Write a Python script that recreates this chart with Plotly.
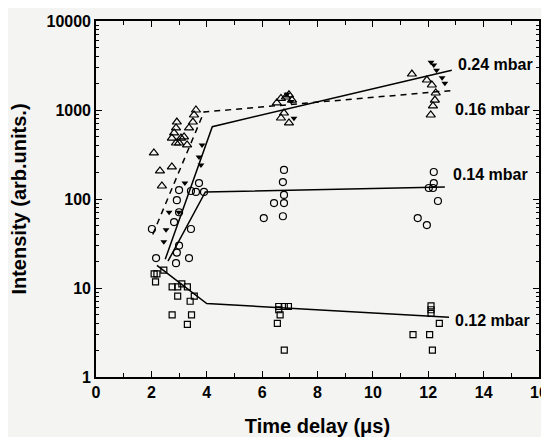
import plotly.graph_objects as go

# ---- data ----
# 0.12 mbar (open squares)
sq_x = [2.1, 2.2, 2.15, 2.45, 2.75, 2.95, 3.1, 3.3, 2.95, 3.4, 3.55, 2.75, 3.45, 3.3,
        6.6, 6.8, 6.95, 6.6, 6.65, 6.55, 6.8, 12.1, 12.1, 12.1, 12.4, 11.45, 12.05, 12.15]
sq_y = [14.4, 14.4, 11.7, 15.9, 10.3, 10.3, 11.1, 10.3, 8.1, 7.1, 8.1, 5.0, 5.0, 3.9,
        6.2, 6.2, 6.2, 5.7, 5.0, 4.0, 2.0, 6.3, 5.7, 5.2, 4.0, 3.0, 3.0, 2.0]

# 0.14 mbar (open circles)
ci_x = [2.02, 2.17, 2.82, 2.92, 2.92, 3.0, 3.0, 3.0, 2.89, 3.36, 3.43, 3.43, 3.61, 3.72, 3.9,
        6.06, 6.43, 6.79, 6.75, 6.79, 6.79, 6.75, 12.2, 12.2, 12.02, 12.17, 12.35, 11.62, 11.95]
ci_y = [46, 21.7, 55, 97, 25, 126, 71, 30, 19, 21.7, 123, 46, 120, 151, 120,
        61, 90, 212, 155, 111, 90, 64, 201, 151, 133, 133, 95, 61, 51]

# 0.16 mbar (open triangles)
tr_x = [2.09, 2.31, 2.38, 2.74, 2.74, 2.82, 2.89, 2.89, 2.92, 3.07, 3.18, 3.29, 3.36, 3.5, 3.54, 3.61, 3.0,
        6.53, 6.68, 6.86, 6.97, 6.68, 6.97, 6.79, 7.08,
        11.41, 11.95, 12.13, 12.27, 12.24, 12.17, 12.09]
tr_y = [329, 207, 140, 229, 484, 552, 629, 426, 733, 484, 498, 405, 629, 733, 879, 1000, 426,
        1200, 1350, 1400, 1480, 813, 717, 925, 1294,
        2537, 2172, 1910, 1553, 1294, 1110, 879]

# 0.24 mbar (filled down triangles)
td_x = [2.45, 2.53, 2.64, 2.99, 3.21, 3.72, 3.79, 3.83, 6.9, 7.05, 7.15,
        12.1, 12.2, 12.3, 12.5, 12.6]
td_y = [33, 45, 71, 71, 151, 297, 241, 405, 1500, 1250, 810,
        3450, 3200, 2800, 2300, 2000]

# guide lines
l24_x = [2.5, 4.2, 12.85]
l24_y = [21, 650, 2800]
l16_x = [2.05, 3.9, 12.8]
l16_y = [40, 950, 1650]
l14_x = [2.6, 3.95, 12.6]
l14_y = [20, 120, 136]
l12_x = [2.2, 4.0, 12.75]
l12_y = [18, 6.7, 4.7]

labels = ["0.24 mbar", "0.16 mbar", "0.14 mbar", "0.12 mbar"]

x_ticks = [0, 2, 4, 6, 8, 10, 12, 14, 16]
y_ticks = [1, 10, 100, 1000, 10000]
y_minor = [m * d for d in [1, 10, 100, 1000] for m in range(2, 10)]

FONT = "Liberation Sans"
fig = go.Figure()

line_style = dict(color="black", width=1.5)
fig.add_trace(go.Scatter(x=l24_x, y=l24_y, mode="lines", line=line_style))
fig.add_trace(go.Scatter(x=l16_x, y=l16_y, mode="lines", line=dict(color="black", width=1.5, dash="6px,5px")))
fig.add_trace(go.Scatter(x=l14_x, y=l14_y, mode="lines", line=line_style))
fig.add_trace(go.Scatter(x=l12_x, y=l12_y, mode="lines", line=line_style))

fig.add_trace(go.Scatter(x=sq_x, y=sq_y, mode="markers",
                         marker=dict(symbol="square-open", size=6, color="black", line=dict(width=1.2))))
fig.add_trace(go.Scatter(x=ci_x, y=ci_y, mode="markers",
                         marker=dict(symbol="circle-open", size=7, color="black", line=dict(width=1.2))))
fig.add_trace(go.Scatter(x=tr_x, y=tr_y, mode="markers",
                         marker=dict(symbol="triangle-up-open", size=8, color="black", line=dict(width=1.2))))
fig.add_trace(go.Scatter(x=td_x, y=td_y, mode="markers",
                         marker=dict(symbol="triangle-down", size=6, color="black")))

label_pos = [(13.0, 3.506), (12.9, 3.011), (12.82, 2.27), (12.9, 0.64)]
for txt, (ax, ay) in zip(labels, label_pos):
    fig.add_annotation(x=ax, y=ay, text="<b>%s</b>" % txt, showarrow=False,
                       xanchor="left", yanchor="middle",
                       font=dict(family=FONT, size=16, color="black"))

bg = "#f4f4f2"
fig.update_layout(
    width=541, height=429,
    margin=dict(l=88, r=10, t=13, b=60),
    paper_bgcolor=bg, plot_bgcolor=bg,
    showlegend=False,
    font=dict(family=FONT, size=16, color="black"),
)
fig.update_xaxes(
    range=[0, 16], tickvals=x_ticks, ticktext=["<b>%d</b>" % v for v in x_ticks],
    ticks="inside", ticklen=6, tickwidth=1.3, tickcolor="black",
    minor=dict(dtick=1, ticks="inside", ticklen=4, tickwidth=1.2, tickcolor="black"),
    showline=True, linecolor="black", linewidth=1.6, mirror="ticks",
    showgrid=False, zeroline=False, automargin=False,
    tickfont=dict(family=FONT, size=16),
    title=dict(text="<b>Time delay (μs)</b>", font=dict(family=FONT, size=20), standoff=20),
)
fig.update_yaxes(
    type="log", range=[0, 4], tickvals=y_ticks, ticktext=["<b>%d</b>" % v for v in y_ticks],
    ticks="inside", ticklen=6, tickwidth=1.3, tickcolor="black",
    minor=dict(tickvals=y_minor, ticks="inside", ticklen=3, tickwidth=1.0, tickcolor="black"),
    showline=True, linecolor="black", linewidth=1.6, mirror="ticks",
    showgrid=False, zeroline=False, automargin=False,
    tickfont=dict(family=FONT, size=16),
    title=dict(text="<b>Intensity (arb.units.)</b>", font=dict(family=FONT, size=20), standoff=18),
)

fig.write_html("out.html")
